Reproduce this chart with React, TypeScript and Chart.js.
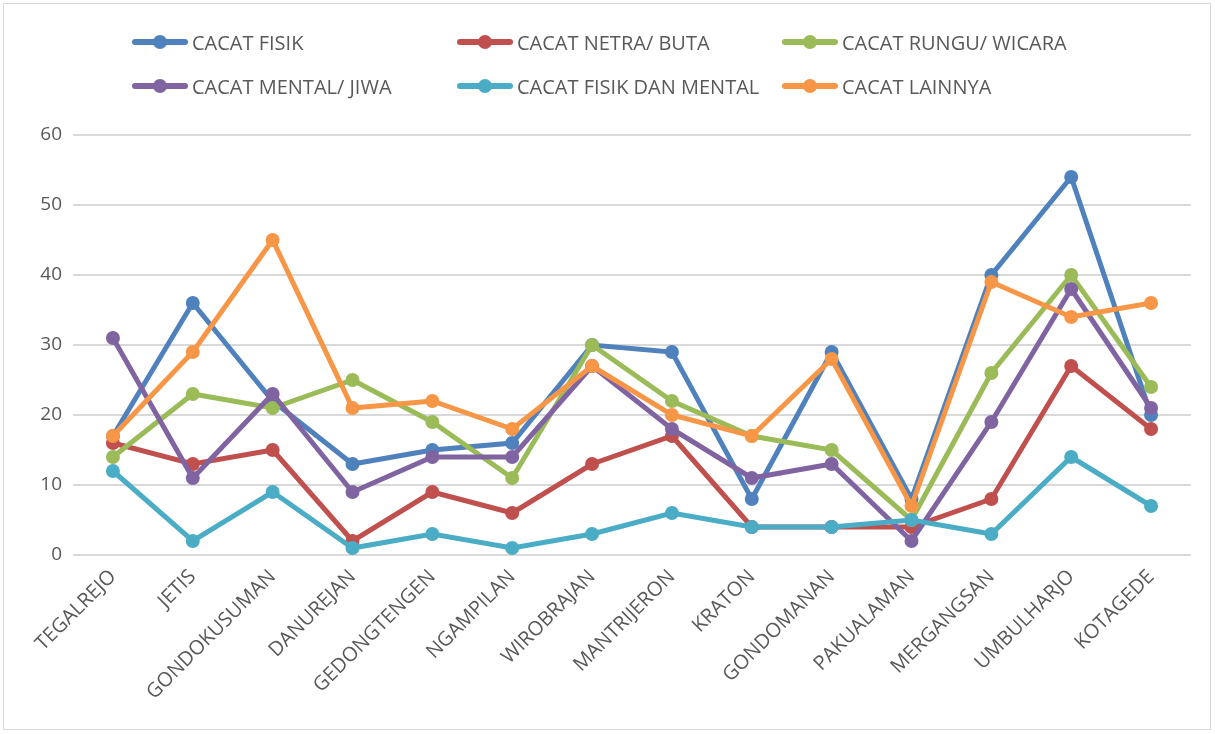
import React, { useEffect, useRef } from "react";
import { Chart, registerables } from "chart.js";

Chart.register(...registerables);

const categories = [
  "TEGALREJO", "JETIS", "GONDOKUSUMAN", "DANUREJAN", "GEDONGTENGEN", "NGAMPILAN",
  "WIROBRAJAN", "MANTRIJERON", "KRATON", "GONDOMANAN", "PAKUALAMAN", "MERGANGSAN",
  "UMBULHARJO", "KOTAGEDE",
];

const cacatFisik = [17, 36, 22, 13, 15, 16, 30, 29, 8, 29, 8, 40, 54, 20];
const cacatNetra = [16, 13, 15, 2, 9, 6, 13, 17, 4, 4, 4, 8, 27, 18];
const cacatRungu = [14, 23, 21, 25, 19, 11, 30, 22, 17, 15, 5, 26, 40, 24];
const cacatMental = [31, 11, 23, 9, 14, 14, 27, 18, 11, 13, 2, 19, 38, 21];
const cacatFisikMental = [12, 2, 9, 1, 3, 1, 3, 6, 4, 4, 5, 3, 14, 7];
const cacatLainnya = [17, 29, 45, 21, 22, 18, 27, 20, 17, 28, 7, 39, 34, 36];

const seriesNames = [
  "CACAT FISIK", "CACAT NETRA/ BUTA", "CACAT RUNGU/ WICARA",
  "CACAT MENTAL/ JIWA", "CACAT FISIK DAN MENTAL", "CACAT LAINNYA",
];
const seriesData = [cacatFisik, cacatNetra, cacatRungu, cacatMental, cacatFisikMental, cacatLainnya];
const seriesColors = ["#4F81BD", "#C0504D", "#9BBB59", "#8064A2", "#4BACC6", "#F79646"];

const yTicks = [0, 10, 20, 30, 40, 50, 60];

const FONT = "'Open Sans', sans-serif";

const legendPos = [
  { x: 132, y: 42 }, { x: 457, y: 42 }, { x: 782, y: 42 },
  { x: 132, y: 86 }, { x: 457, y: 86 }, { x: 782, y: 86 },
];

export default function App() {
  const ref = useRef<HTMLCanvasElement | null>(null);

  useEffect(() => {
    if (!ref.current) return;
    const chart = new Chart(ref.current, {
      type: "line",
      data: {
        labels: categories,
        datasets: seriesData.map((d, i) => ({
          label: seriesNames[i],
          data: d,
          borderColor: seriesColors[i],
          backgroundColor: seriesColors[i],
          pointBackgroundColor: seriesColors[i],
          pointBorderColor: seriesColors[i],
          borderWidth: 5,
          pointRadius: 7,
          pointBorderWidth: 0,
          tension: 0,
          order: seriesData.length - i,
        })),
      },
      options: {
        animation: false,
        responsive: false,
        maintainAspectRatio: false,
        layout: { padding: { left: 0, top: 135, right: 24, bottom: 0 } },
        plugins: { legend: { display: false }, tooltip: { enabled: false } },
        scales: {
          x: {
            offset: true,
            grid: { display: false },
            border: { display: false },
            ticks: {
              color: "#595959",
              font: { family: FONT, size: 20 },
              minRotation: 45,
              maxRotation: 45,
              autoSkip: false,
              padding: 2,
            },
            afterFit: (s: any) => { s.height = 734 - 555 - 3; },
          },
          y: {
            min: 0,
            max: 60,
            afterBuildTicks: (s: any) => { s.ticks = yTicks.map((v) => ({ value: v })); },
            grid: { color: "#D9D9D9", lineWidth: 2, drawTicks: false },
            border: { display: false },
            ticks: {
              color: "#595959",
              font: { family: FONT, size: 19 },
              padding: 11,
            },
            afterFit: (s: any) => { s.width = 73; },
          },
        },
      },
    });
    return () => chart.destroy();
  }, []);

  return (
    <div style={{ position: "fixed", left: 0, top: 0, width: 1215, height: 734, background: "#fff" }}>
      <div style={{ position: "absolute", left: 3, top: 3, width: 1208, height: 727, border: "1px solid #D9D9D9", boxSizing: "border-box" }} />
      <canvas ref={ref} width={1215} height={731} style={{ position: "absolute", left: 0, top: 0 }} />
      {seriesNames.map((n, i) => (
        <div key={n} style={{ position: "absolute", left: legendPos[i].x, top: legendPos[i].y - 14, height: 28, display: "flex", alignItems: "center", fontFamily: FONT, fontSize: 20, color: "#595959", whiteSpace: "nowrap" }}>
          <div style={{ position: "relative", width: 56, height: 28, marginRight: 4 }}>
            <div style={{ position: "absolute", left: 0, top: 11, width: 56, height: 6, borderRadius: 3, background: seriesColors[i] }} />
            <div style={{ position: "absolute", left: 21, top: 7, width: 14, height: 14, borderRadius: 7, background: seriesColors[i] }} />
          </div>
          <span>{n}</span>
        </div>
      ))}
    </div>
  );
}
